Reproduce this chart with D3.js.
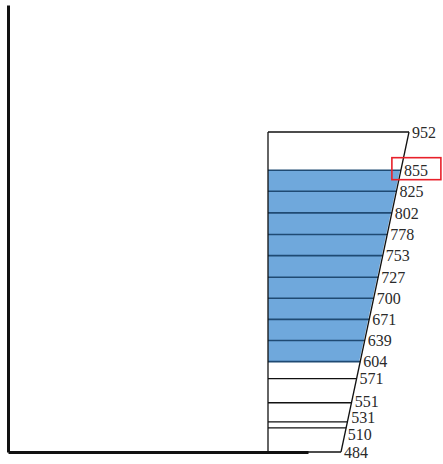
<!DOCTYPE html>
<html>
<head>
<meta charset="utf-8">
<script src="https://cdn.jsdelivr.net/npm/d3@7"></script>
<style>
  html, body { margin: 0; padding: 0; background: #fff; }
  svg { display: block; }
</style>
</head>
<body>
<svg id="chart" width="443" height="464"></svg>
<script>
// ---- data ----
const levels = [952, 855, 825, 802, 778, 753, 727, 700, 671, 639, 604, 571, 551, 531, 510, 484];
// relative thickness of each layer between consecutive levels
const layerThickness = [38, 21, 21.5, 21.5, 21, 21.5, 21, 21, 21, 21, 17, 24, 19, 6, 24];
// highlighted (shaded) interval
const shadedRange = [855, 604];
// annotated (boxed) label
const boxedLabel = [855];

// ---- layout ----
const svg = d3.select("#chart");
const cum = [0];
layerThickness.forEach((t, i) => cum.push(cum[i] + t));
const total = cum[cum.length - 1];

const y = d3.scaleLinear().domain([0, total]).range([132, 452]);
const edgeX = d3.scaleLinear().domain([0, total]).range([409, 341]);
const boxLeft = 268;

const depthOf = v => cum[levels.indexOf(v)];

// axes frame
const yAxisScale = d3.scaleLinear().domain([0, 1]).range([452, 5]);
const xAxisScale = d3.scaleLinear().domain([0, 1]).range([8, 308]);
svg.append("g").attr("transform", "translate(8,0)")
  .call(d3.axisLeft(yAxisScale).tickValues([]).tickSizeOuter(0))
  .select(".domain").attr("stroke", "#111").attr("stroke-width", 3);
svg.append("g").attr("transform", "translate(0,452)")
  .call(d3.axisBottom(xAxisScale).tickValues([]).tickSizeOuter(0))
  .select(".domain").attr("stroke", "#111").attr("stroke-width", 3);

// shaded band
const d0 = depthOf(shadedRange[0]), d1 = depthOf(shadedRange[1]);
svg.append("path")
  .attr("d", d3.line()([
    [boxLeft, y(d0)], [edgeX(d0) - 1, y(d0)], [edgeX(d1) - 1, y(d1)], [boxLeft, y(d1)]
  ]) + "Z")
  .attr("fill", "#6fa8dc");

// horizontal layer lines
svg.append("g").selectAll("line")
  .data(levels)
  .join("line")
  .attr("x1", boxLeft)
  .attr("x2", v => edgeX(depthOf(v)))
  .attr("y1", v => y(depthOf(v)))
  .attr("y2", v => y(depthOf(v)))
  .attr("stroke", v => (v <= shadedRange[0] && v >= shadedRange[1]) ? "#1f4a73" : "#111")
  .attr("stroke-width", v => (v <= shadedRange[0] && v >= shadedRange[1]) ? 1.6 : 1.3);

// box left edge and slanted right edge
svg.append("line")
  .attr("x1", boxLeft).attr("x2", boxLeft)
  .attr("y1", y(0)).attr("y2", y(total))
  .attr("stroke", "#111").attr("stroke-width", 1.3);
svg.append("line")
  .attr("x1", edgeX(0)).attr("x2", edgeX(total))
  .attr("y1", y(0)).attr("y2", y(total))
  .attr("stroke", "#111").attr("stroke-width", 1.3);

// label positions with simple collision relaxation
const minGap = 16.5;
const lab = levels.map(v => ({ v, yy: y(depthOf(v)) }));
for (let it = 0; it < 80; it++) {
  for (let i = 0; i < lab.length - 1; i++) {
    const a = lab[i], b = lab[i + 1];
    const gap = b.yy - a.yy;
    if (gap < minGap) {
      const push = (minGap - gap) / 2;
      a.yy -= push; b.yy += push;
    }
  }
}
lab.forEach(l => { l.xx = edgeX(y.invert(l.yy)) + 3; });

svg.append("g").selectAll("text")
  .data(lab)
  .join("text")
  .attr("x", d => d.xx)
  .attr("y", d => d.yy)
  .attr("dy", "0.36em")
  .attr("font-family", "'Liberation Serif', 'DejaVu Serif', serif")
  .attr("font-size", 16)
  .attr("fill", "#2a2a2a")
  .text(d => d.v);

// red annotation box
svg.append("g").selectAll("rect")
  .data(lab.filter(d => boxedLabel.includes(d.v)))
  .join("rect")
  .attr("x", d => d.xx - 12)
  .attr("y", d => d.yy - 12.5)
  .attr("width", 49)
  .attr("height", 22)
  .attr("fill", "none")
  .attr("stroke", "#e8202a")
  .attr("stroke-width", 1.6);
</script>
</body>
</html>
